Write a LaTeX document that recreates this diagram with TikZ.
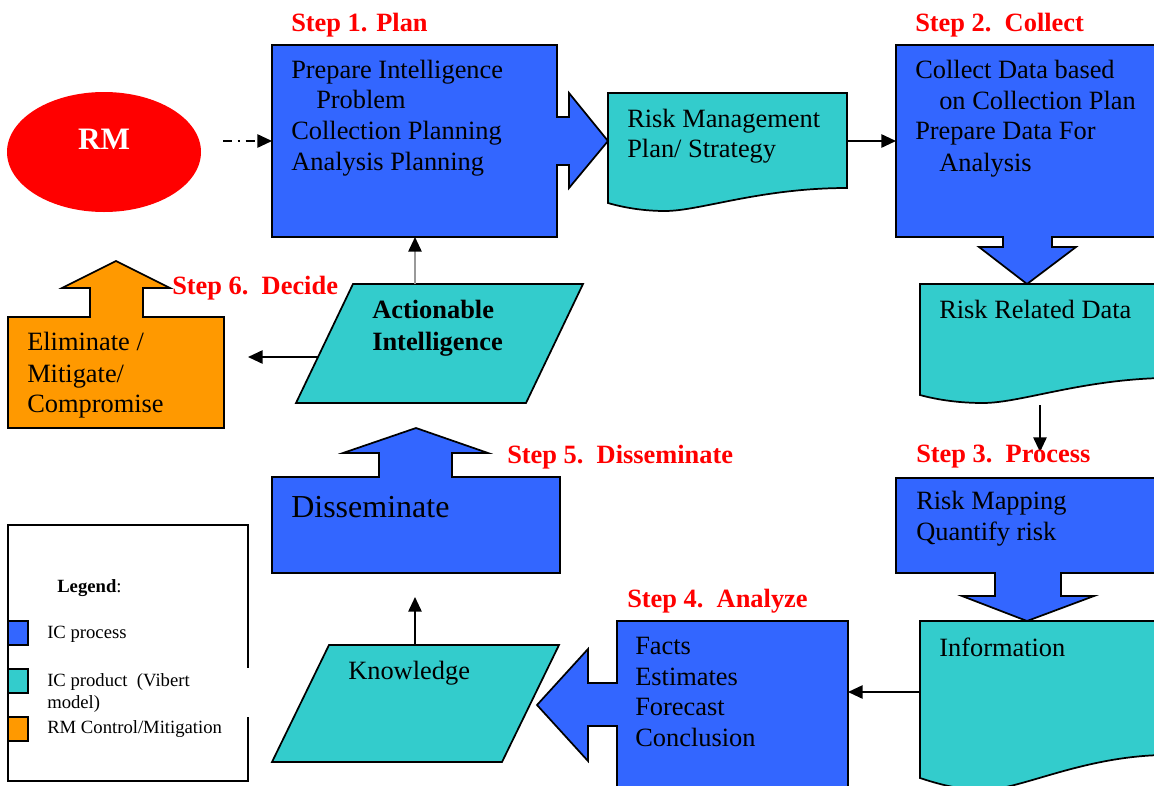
\documentclass[tikz,border=0pt]{standalone}
\usepackage{fontspec}
\setmainfont{Liberation Serif}
\usetikzlibrary{arrows.meta,shapes.geometric}
\definecolor{icblue}{HTML}{3366FF}
\definecolor{icteal}{HTML}{33CCCC}
\definecolor{rmorange}{HTML}{FF9900}
\definecolor{stepred}{HTML}{FF0000}
\begin{document}
\begin{tikzpicture}[x=0.75pt,y=-0.75pt,
 proc/.style={draw=black,fill=icblue,line width=1.3pt,line join=miter},
 prod/.style={draw=black,fill=icteal,line width=1.3pt},
 ctrl/.style={draw=black,fill=rmorange,line width=1.3pt},
 txt/.style={anchor=base west,inner sep=0pt,font=\fontsize{19.8}{22}\selectfont},
 btxt/.style={txt,font=\fontsize{19.8}{22}\selectfont\bfseries},
 steplbl/.style={anchor=base west,inner sep=0pt,text=stepred,font=\fontsize{19.8}{22}\selectfont\bfseries},
 leg/.style={anchor=base west,inner sep=0pt,font=\fontsize{14}{16}\selectfont},
 swatch/.style={draw=black,line width=1.2pt},
 conn/.style={line width=1.3pt,-{Triangle[length=11pt,width=10pt]}},
]
\useasboundingbox (0,0) rectangle (1154,786);
\clip (0,0) rectangle (1154,786);

% RM ellipse
\node[ellipse,fill=red,minimum width=145.5pt,minimum height=90pt,inner sep=0pt] (rm) at (104,152) {};
\node[anchor=base,inner sep=0pt,text=white,font=\fontsize{23.4}{26}\selectfont\bfseries] (rmtext) at (104,149) {RM};

% Step 1 box with right arrow
\draw[proc] (272,45) -- (557,45) -- (557,117) -- (569,117) -- (569,93) -- (608,141) -- (569,188) -- (569,165) -- (557,165) -- (557,237) -- (272,237) -- cycle;
\coordinate (s1W) at (272,141);
\coordinate (s1S) at (415,237);

% Risk management plan document
\draw[prod] (608,93) -- (847,93) -- (847,188) .. controls (760,188) and (700,211) .. (665,211) .. controls (645,211) and (625,208) .. (608,203) -- cycle;
\coordinate (rmpE) at (847,141);

% Step 2 box with down arrow
\draw[proc] (896,45) -- (1162,45) -- (1162,237) -- (1052,237) -- (1052,247) -- (1076,247) -- (1027,284) -- (979,247) -- (1003,247) -- (1003,237) -- (896,237) -- cycle;
\coordinate (s2W) at (896,141);

% Risk related data document
\draw[prod] (920,284) -- (1162,284) -- (1162,378) .. controls (1080,380) and (1020,403) .. (983,403) .. controls (960,403) and (938,400) .. (920,395) -- cycle;
\coordinate (rrdS) at (1040,405);
\coordinate (s3N) at (1040,452);

% Step 3 box with down arrow
\draw[proc] (896,478) -- (1162,478) -- (1162,573) -- (1061,573) -- (1061,596) -- (1094,596) -- (1027,621) -- (962,596) -- (995,596) -- (995,573) -- (896,573) -- cycle;

% Information document
\draw[prod] (920,621) -- (1162,621) -- (1162,755) .. controls (1080,757) and (1020,790) .. (983,790) .. controls (960,790) and (938,784) .. (920,778) -- cycle;
\coordinate (infW) at (920,692);

% Step 4 box with left arrow
\draw[proc] (617,621) -- (848,621) -- (848,792) -- (617,792) -- (617,726) -- (588,726) -- (588,761) -- (537,705) -- (588,649) -- (588,683) -- (617,683) -- cycle;
\coordinate (s4E) at (848,692);

% Knowledge parallelogram
\draw[prod] (329,645) -- (559,645) -- (502,762) -- (272,762) -- cycle;
\coordinate (knN) at (415,645);
\coordinate (dsS) at (415,597);

% Disseminate box with up arrow
\draw[proc] (272,477) -- (379,477) -- (379,453) -- (343,453) -- (416,428) -- (488,453) -- (452,453) -- (452,477) -- (560,477) -- (560,573) -- (272,573) -- cycle;

% Actionable intelligence parallelogram
\draw[prod] (353,284) -- (583,284) -- (526,403) -- (296,403) -- cycle;
\coordinate (aiN) at (415,284);
\coordinate (aiW) at (318,357);
\coordinate (elE) at (248,357);

% Eliminate box with up arrow
\draw[ctrl] (8,317) -- (90,317) -- (90,288) -- (62,288) -- (116,261) -- (170,288) -- (143,288) -- (143,317) -- (224,317) -- (224,428) -- (8,428) -- cycle;

% Connectors
\coordinate (rmE) at (223,141);
\draw[conn,dash pattern=on 7pt off 4pt on 2pt off 4pt] (rmE) -- (s1W);
\draw[conn] (rmpE) -- (s2W);
\draw[conn] (rrdS) -- (s3N);
\draw[conn] (infW) -- (s4E);
\draw[conn] (knN) -- (dsS);
\draw[conn,draw=black!40,-{Triangle[length=11pt,width=10pt,color=black,fill=black]}] (aiN) -- (s1S);
\draw[conn] (aiW) -- (elE);

% Texts
\node[steplbl] (st1) at (291,31) {Step 1. Plan};
\node[steplbl] (st2) at (915,31) {Step 2.\ \ Collect};
\node[steplbl] (st6) at (172,294) {Step 6.\ \ Decide};
\node[steplbl] (st5) at (507,463) {Step 5.\ \ Disseminate};
\node[steplbl] (st3) at (916,462) {Step 3.\ \ Process};
\node[steplbl] (st4) at (627,607) {Step 4.\ \ Analyze};

\node[txt] (t1a) at (291,78) {Prepare Intelligence};
\node[txt] (t1b) at (316,108) {Problem};
\node[txt] (t1c) at (291,139) {Collection Planning};
\node[txt] (t1d) at (291,170) {Analysis Planning};

\node[txt] (t2a) at (627,127) {Risk Management};
\node[txt] (t2b) at (627,157) {Plan/ Strategy};

\node[txt] (t3a) at (915,78) {Collect Data based};
\node[txt] (t3b) at (939,109) {on Collection Plan};
\node[txt] (t3c) at (915,139) {Prepare Data For};
\node[txt] (t3d) at (939,171) {Analysis};

\node[txt] (t4) at (939,318) {Risk Related Data};
\node[txt] (t5a) at (916,509) {Risk Mapping};
\node[txt] (t5b) at (916,540) {Quantify risk};
\node[txt] (t6) at (939,656) {Information};

\node[txt] (t7a) at (635,654) {Facts};
\node[txt] (t7b) at (635,685) {Estimates};
\node[txt] (t7c) at (635,715) {Forecast};
\node[txt] (t7d) at (635,746) {Conclusion};

\node[txt] (t8) at (348,679) {Knowledge};
\node[txt,font=\fontsize{24}{26}\selectfont] (t9) at (291,517) {Disseminate};
\node[btxt] (t10a) at (372,318) {Actionable};
\node[btxt] (t10b) at (372,350) {Intelligence};
\node[txt] (t11a) at (27,350) {Eliminate /};
\node[txt] (t11b) at (27,382) {Mitigate/};
\node[txt] (t11c) at (27,412) {Compromise};

% Legend
\draw[line width=1.2pt] (8,525) rectangle (248,781);
\fill[white] (245,668) rectangle (251,717);
\draw[swatch,fill=icblue] (8,621) rectangle (28,645);
\draw[swatch,fill=icteal] (8,669) rectangle (28,693);
\draw[swatch,fill=rmorange] (8,717) rectangle (28,741);
\node[leg] (lg) at (57,592) {\textbf{Legend}:};
\node[leg] (l1) at (47,638) {IC process};
\node[leg] (l2) at (47,686) {IC product\ \ (Vibert};
\node[leg] (l2b) at (47,708) {model)};
\node[leg] (l3) at (47,733) {RM Control/Mitigation};
\end{tikzpicture}
\end{document}
